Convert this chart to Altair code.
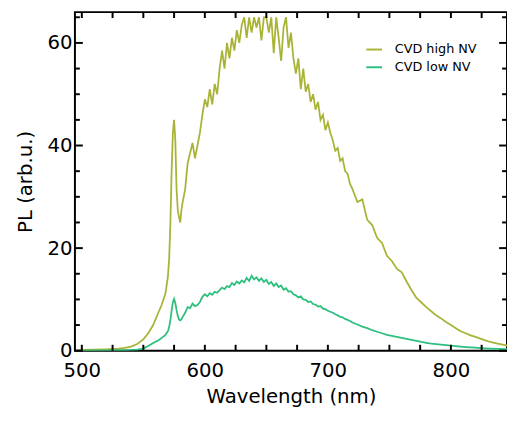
import altair as alt
import pandas as pd

wavelength = [496, 500, 510, 520, 530, 535, 540, 545, 550, 554, 558, 562, 565, 568, 570, 571, 572, 573, 574, 575, 576,
              577, 578, 579, 580, 581, 582, 584, 586, 588,
              590, 592, 594, 596, 598, 600, 602, 604, 606, 608,
              610, 612, 614, 616, 618, 620, 622, 624, 626, 628,
              630, 632, 634, 636, 638, 640, 642, 644, 646, 648,
              650, 652, 654, 656, 658, 660, 662, 664, 666, 668,
              670, 672, 674, 676, 678, 680, 682, 684, 686, 688,
              690, 692, 694, 696, 698, 700, 702, 704, 706, 708,
              710, 712, 714, 716, 718, 720,
              724, 728, 732, 736, 740, 744, 748, 752, 756, 760,
              764, 768, 772, 776, 780, 784, 788, 792, 796, 800,
              804, 808, 812, 816, 820, 824, 828, 832, 836, 840,
              844, 846]

high_nv = [0.1, 0.15, 0.2, 0.28, 0.4, 0.55, 0.8, 1.3, 2.2, 3.4, 5.0, 7.3, 9.0, 11.2, 14.5, 18.0, 25.0, 35.0, 42.5, 45.0, 41.0,
           31.5, 27.5, 26.0, 25.0, 27.5, 29.0, 31.5, 36.5, 38.5,
           40.5, 37.5, 40.0, 42.5, 46.0, 49.0, 47.5, 51.0, 48.0, 52.0,
           50.0, 55.0, 58.5, 55.0, 60.0, 57.0, 61.0, 58.5, 62.5, 60.0,
           63.5, 65.0, 61.0, 65.0, 62.0, 65.0, 63.0, 65.0, 60.5, 65.0,
           65.0, 62.0, 65.0, 58.0, 65.0, 61.0, 56.5, 63.0, 65.0, 59.0,
           62.0, 57.0, 54.0, 57.0, 51.0, 55.0, 50.5, 52.0, 48.5, 50.0,
           47.0, 48.5, 45.0, 46.0, 43.0, 44.5, 42.5, 41.0, 39.0, 39.5,
           37.0, 37.5, 35.0, 34.5, 32.5, 31.5,
           29.0, 29.5, 25.5, 24.5, 22.0, 21.0, 18.5, 17.5, 16.0, 15.3,
           13.5, 11.8, 10.3, 9.4, 8.5, 7.7, 6.9, 6.3, 5.6, 5.0,
           4.4, 3.8, 3.4, 3.0, 2.7, 2.35, 2.0, 1.7, 1.5, 1.3,
           1.1, 1.0]

low_nv = [0.02, 0.03, 0.05, 0.08, 0.1, 0.12, 0.15, 0.22, 0.4, 0.9, 1.5, 2.0, 2.5, 3.1, 3.8, 4.6, 6.0, 7.8, 9.4, 10.1, 9.3,
          7.9, 6.8, 6.1, 5.9, 6.1, 6.6, 7.4, 8.5, 8.3,
          9.2, 8.7, 8.9, 9.5, 10.5, 11.0, 10.6, 11.2, 10.9, 11.5,
          11.3, 11.8, 12.3, 12.0, 12.6, 12.4, 13.2, 12.8, 13.5, 13.1,
          13.7, 13.3, 14.2, 13.6, 14.6, 13.9, 14.3, 13.6, 14.1, 13.4,
          13.8, 13.0, 13.4, 12.6, 13.1, 12.4, 12.7, 11.9, 12.2, 11.5,
          11.6, 11.0, 10.8, 10.4, 10.6, 10.0, 9.9, 9.5, 9.6, 9.1,
          9.0, 8.6, 8.7, 8.2, 8.1, 7.8, 7.6, 7.4, 7.1, 6.9,
          6.6, 6.5, 6.2, 6.0, 5.8, 5.5,
          5.1, 4.7, 4.4, 4.0, 3.7, 3.4, 3.1, 2.9, 2.7, 2.5,
          2.3, 2.1, 1.9, 1.7, 1.55, 1.4, 1.3, 1.2, 1.1, 1.0,
          0.9, 0.8, 0.72, 0.65, 0.58, 0.52, 0.47, 0.42, 0.38, 0.34,
          0.3, 0.28]

series_names = ["CVD high NV", "CVD low NV"]
series_colors = ["#a9b437", "#2cbf7e"]
x_ticks = [500, 525, 550, 575, 600, 625, 650, 675, 700, 725, 750, 775, 800, 825]
x_labels = [500, 600, 700, 800]
y_minor = [5, 10, 15, 25, 30, 35, 45, 50, 55, 65]
y_major = [0, 20, 40, 60]

n = len(wavelength)
df = pd.DataFrame({
    "wl": wavelength * 2,
    "pl": high_nv + low_nv,
    "series": [series_names[0]] * n + [series_names[1]] * n,
})
xt = pd.DataFrame({"v": x_ticks})
ymin = pd.DataFrame({"v": y_minor})
ymaj = pd.DataFrame({"v": y_major})

W, H = 439, 344
xscale = alt.Scale(domain=[494.4, 845.6], nice=False, zero=False)
yscale = alt.Scale(domain=[0, 66], nice=False)

x_bottom = alt.Axis(values=x_labels, ticks=False, domain=False, grid=False,
                    labelFontSize=20, labelPadding=10, labelColor="black",
                    title="Wavelength (nm)", titleFontSize=20, titleFontWeight="normal",
                    titleColor="black", titlePadding=7)
y_left = alt.Axis(values=y_major, ticks=False, domain=False, grid=False,
                  labelFontSize=20, labelPadding=3, labelColor="black",
                  title="PL (arb.u.)", titleFontSize=20, titleFontWeight="normal",
                  titleColor="black", titlePadding=12)

lines = alt.Chart(df).mark_line(clip=True, strokeWidth=1.8).encode(
    x=alt.X("wl:Q", scale=xscale, axis=x_bottom),
    y=alt.Y("pl:Q", scale=yscale, axis=y_left),
    color=alt.Color("series:N",
                    scale=alt.Scale(domain=series_names, range=series_colors),
                    legend=alt.Legend(title=None, orient="none", legendX=295, legendY=29,
                                      symbolSize=256, symbolStrokeWidth=2,
                                      labelFontSize=13, labelOffset=12)),
)

tick_color = "#000000"
xb = alt.Chart(xt).mark_rule(color=tick_color, strokeWidth=2).encode(
    x=alt.X("v:Q", scale=xscale), y=alt.value(H), y2=alt.value(H - 6))
xtp = alt.Chart(xt).mark_rule(color=tick_color, strokeWidth=2).encode(
    x=alt.X("v:Q", scale=xscale), y=alt.value(0), y2=alt.value(6))
yl_min = alt.Chart(ymin).mark_rule(color=tick_color, strokeWidth=2).encode(
    y=alt.Y("v:Q", scale=yscale), x=alt.value(0), x2=alt.value(5))
yl_maj = alt.Chart(ymaj).mark_rule(color=tick_color, strokeWidth=2).encode(
    y=alt.Y("v:Q", scale=yscale), x=alt.value(0), x2=alt.value(8))
yr_min = alt.Chart(ymin).mark_rule(color=tick_color, strokeWidth=2).encode(
    y=alt.Y("v:Q", scale=yscale), x=alt.value(W), x2=alt.value(W - 5))
yr_maj = alt.Chart(ymaj).mark_rule(color=tick_color, strokeWidth=2).encode(
    y=alt.Y("v:Q", scale=yscale), x=alt.value(W), x2=alt.value(W - 8))

chart = alt.layer(lines, xb, xtp, yl_min, yl_maj, yr_min, yr_maj).properties(
    width=W, height=H,
    padding={"left": 68, "top": 1, "right": 0, "bottom": 55},
    autosize=alt.AutoSizeParams(type="none"),
).configure(font="DejaVu Sans").configure_view(stroke="black", strokeWidth=2)

chart.save("out.html", embed_options={"renderer": "svg", "actions": False})
